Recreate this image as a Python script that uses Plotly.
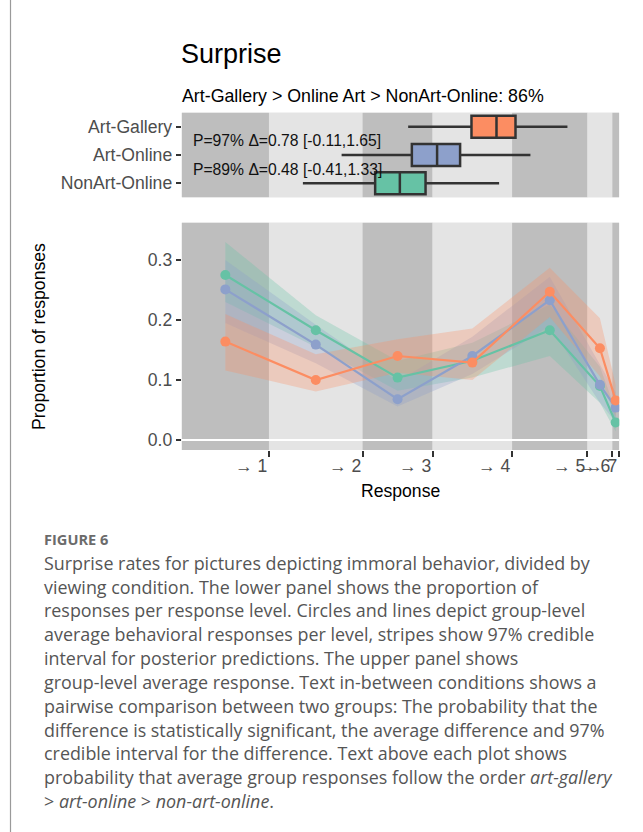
import plotly.graph_objects as go

# ---------------- data ----------------
groups = ["Art-Gallery", "Art-Online", "NonArt-Online"]
colors = {"Art-Gallery": "#FC8D62", "Art-Online": "#8DA0CB", "NonArt-Online": "#66C2A5"}
rgb = {"Art-Gallery": (252, 141, 98), "Art-Online": (141, 160, 203), "NonArt-Online": (102, 194, 165)}

# latent thresholds (response transitions) and lower panel edge
x_lower_edge = 0.0
thresholds = [1.134, 2.351, 3.260, 4.294, 5.273, 5.597, 5.683]
threshold_labels = ["\u2192 1", "\u2192 2", "\u2192 3", "\u2192 4", "\u2192 5", "\u2192 6", "\u2192 7"]

# proportion of responses per level
prop = {
    "Art-Gallery":   [0.164, 0.100, 0.140, 0.129, 0.247, 0.153, 0.066],
    "Art-Online":    [0.251, 0.159, 0.068, 0.140, 0.233, 0.092, 0.054],
    "NonArt-Online": [0.275, 0.183, 0.104, 0.132, 0.183, 0.090, 0.029],
}
prop_lo = {
    "Art-Gallery":   [0.116, 0.081, 0.112, 0.100, 0.205, 0.106, 0.040],
    "Art-Online":    [0.195, 0.128, 0.056, 0.110, 0.190, 0.062, 0.030],
    "NonArt-Online": [0.230, 0.155, 0.082, 0.104, 0.140, 0.062, 0.014],
}
prop_hi = {
    "Art-Gallery":   [0.210, 0.143, 0.168, 0.186, 0.287, 0.203, 0.092],
    "Art-Online":    [0.300, 0.192, 0.098, 0.172, 0.272, 0.125, 0.080],
    "NonArt-Online": [0.330, 0.208, 0.132, 0.162, 0.226, 0.122, 0.050],
}

# group-level average response (latent scale) box summaries
box_lo  = {"Art-Gallery": 2.943, "Art-Online": 2.078, "NonArt-Online": 1.575}
box_q1  = {"Art-Gallery": 3.766, "Art-Online": 2.991, "NonArt-Online": 2.514}
box_med = {"Art-Gallery": 4.091, "Art-Online": 3.319, "NonArt-Online": 2.835}
box_q3  = {"Art-Gallery": 4.338, "Art-Online": 3.618, "NonArt-Online": 3.169}
box_hi  = {"Art-Gallery": 5.013, "Art-Online": 4.532, "NonArt-Online": 4.125}
row_pos = {"NonArt-Online": 0, "Art-Online": 1, "Art-Gallery": 2}

comparisons = ["P=97% \u0394=0.78 [-0.11,1.65]", "P=89% \u0394=0.48 [-0.41,1.33]"]
comparison_rows = [1.5, 0.5]
comparison_x = 0.117

title_text = "Surprise"
subtitle_text = "Art-Gallery > Online Art > NonArt-Online: 86%"

caption_head = "FIGURE 6"
caption_lines = [
    "Surprise rates for pictures depicting immoral behavior, divided by",
    "viewing condition. The lower panel shows the proportion of",
    "responses per response level. Circles and lines depict group-level",
    "average behavioral responses per level, stripes show 97% credible",
    "interval for posterior predictions. The upper panel shows",
    "group-level average response. Text in-between conditions shows a",
    "pairwise comparison between two groups: The probability that the",
    "difference is statistically significant, the average difference and 97%",
    "credible interval for the difference. Text above each plot shows",
    "probability that average group responses follow the order <i>art-gallery</i>",
    "> <i>art-online</i> > <i>non-art-online</i>.",
]

# ---------------- layout helpers ----------------
W, H = 643, 832
def px_x(p): return p / W
def px_y(p): return 1 - p / H

FONT = "Liberation Sans, Arial, Helvetica, sans-serif"
CAP_FONT = "Open Sans, sans-serif"
DARK_BAND = "#BEBEBE"
LIGHT_BAND = "#E4E4E4"

edges = [x_lower_edge] + thresholds
mids = [(edges[i] + edges[i + 1]) / 2 for i in range(len(edges) - 1)]
xrange = [x_lower_edge, thresholds[-1] + 0.004]

fig = go.Figure()

# ribbons
draw_order = ["NonArt-Online", "Art-Online", "Art-Gallery"]
for g in draw_order:
    r, gg, b = rgb[g]
    fig.add_trace(go.Scatter(x=mids, y=prop_lo[g], mode="lines", line=dict(width=0),
                             showlegend=False, hoverinfo="skip", xaxis="x", yaxis="y"))
    fig.add_trace(go.Scatter(x=mids, y=prop_hi[g], mode="lines", line=dict(width=0),
                             fill="tonexty", fillcolor=f"rgba({r},{gg},{b},0.30)",
                             showlegend=False, hoverinfo="skip", xaxis="x", yaxis="y"))
# lines + points
for g in draw_order:
    fig.add_trace(go.Scatter(x=mids, y=prop[g], mode="lines+markers",
                             line=dict(color=colors[g], width=2.2),
                             marker=dict(color=colors[g], size=10),
                             showlegend=False, xaxis="x", yaxis="y"))

# boxes (upper panel)
for g in groups:
    fig.add_trace(go.Box(
        y=[row_pos[g]], q1=[box_q1[g]], median=[box_med[g]], q3=[box_q3[g]],
        lowerfence=[box_lo[g]], upperfence=[box_hi[g]], orientation="h",
        fillcolor=colors[g], line=dict(color="#333333", width=2.5),
        width=0.78, whiskerwidth=0, boxpoints=False, showlegend=False,
        xaxis="x2", yaxis="y2"))

shapes = []
for i in range(len(edges) - 1):
    col = DARK_BAND if i % 2 == 0 else LIGHT_BAND
    for yref, xref in (("y domain", "x"), ("y2 domain", "x2")):
        shapes.append(dict(type="rect", xref=xref, yref=yref, x0=edges[i], x1=edges[i + 1],
                           y0=0, y1=1, fillcolor=col, line=dict(width=0), layer="below"))
# left frame line
shapes.append(dict(type="line", xref="paper", yref="paper", x0=px_x(10.5), x1=px_x(10.5),
                   y0=0, y1=1, line=dict(color="#9a9a9a", width=1.2)))

annotations = []
annotations.append(dict(text=title_text, x=px_x(179), y=px_y(54), xref="paper", yref="paper",
                        xanchor="left", yanchor="middle", showarrow=False,
                        font=dict(family=FONT, size=27, color="#000000")))
annotations.append(dict(text=subtitle_text, x=px_x(180), y=px_y(96), xref="paper", yref="paper",
                        xanchor="left", yanchor="middle", showarrow=False,
                        font=dict(family=FONT, size=17.8, color="#000000")))
for t, yy in zip(comparisons, comparison_rows):
    annotations.append(dict(text=t, x=comparison_x, y=yy, xref="x2", yref="y2",
                            xanchor="left", yanchor="middle", showarrow=False,
                            font=dict(family=FONT, size=15.7, color="#111111")))
for t, xv in zip(threshold_labels, thresholds):
    annotations.append(dict(text=t, x=xv, y=px_y(466), xref="x", yref="paper",
                            xanchor="right", yanchor="middle", showarrow=False,
                            font=dict(family=FONT, size=17.6, color="#4D4D4D")))
annotations.append(dict(text="Response", x=px_x(400.5), y=px_y(491), xref="paper", yref="paper",
                        xanchor="center", yanchor="middle", showarrow=False,
                        font=dict(family=FONT, size=17.6, color="#000000")))
annotations.append(dict(text="Proportion of responses", x=px_x(38.5), y=px_y(336.5),
                        xref="paper", yref="paper", xanchor="center", yanchor="middle",
                        textangle=-90, showarrow=False,
                        font=dict(family=FONT, size=17.6, color="#000000")))
annotations.append(dict(text="<b>" + caption_head + "</b>", x=px_x(42), y=px_y(539),
                        xref="paper", yref="paper", xanchor="left", yanchor="middle",
                        showarrow=False, font=dict(family=CAP_FONT, size=14.6, color="#6b6b6b")))
for i, line in enumerate(caption_lines):
    annotations.append(dict(text=line, x=px_x(42), y=px_y(562.7 + i * 23.83),
                            xref="paper", yref="paper", xanchor="left", yanchor="middle",
                            showarrow=False, font=dict(family=CAP_FONT, size=17.9, color="#555555")))

dom_x = [px_x(181.7), px_x(619.3)]
fig.update_layout(
    width=W, height=H, autosize=False,
    margin=dict(l=0, r=0, t=0, b=0),
    paper_bgcolor="white", plot_bgcolor=LIGHT_BAND,
    showlegend=False,
    shapes=shapes, annotations=annotations,
    xaxis=dict(domain=dom_x, range=xrange, anchor="y", showgrid=False, zeroline=False,
               tickmode="array", tickvals=thresholds, showticklabels=False,
               ticks="outside", ticklen=6, tickwidth=2, tickcolor="#333333", showline=False),
    yaxis=dict(domain=[px_y(450), px_y(222.7)], range=[-0.0167, 0.3622], anchor="x",
               showgrid=False, zeroline=True, zerolinecolor="white", zerolinewidth=2.2,
               tickmode="array", tickvals=[0, 0.1, 0.2, 0.3], ticktext=["0.0", "0.1", "0.2", "0.3"],
               ticks="outside", ticklen=5, tickwidth=2, tickcolor="#333333",
               tickfont=dict(family=FONT, size=17.6, color="#4D4D4D"), showline=False),
    xaxis2=dict(domain=dom_x, range=xrange, anchor="y2", matches="x", showgrid=False,
                zeroline=False, showticklabels=False, ticks="", showline=False),
    yaxis2=dict(domain=[px_y(197.3), px_y(112.7)], range=[-0.5, 2.5], anchor="x2",
                showgrid=False, zeroline=False, tickmode="array", tickvals=[0, 1, 2],
                ticktext=["NonArt-Online", "Art-Online", "Art-Gallery"],
                ticks="outside", ticklen=5, tickwidth=2, tickcolor="#333333",
                tickfont=dict(family=FONT, size=17.6, color="#4D4D4D"), showline=False),
)

fig.write_html("out.html")
